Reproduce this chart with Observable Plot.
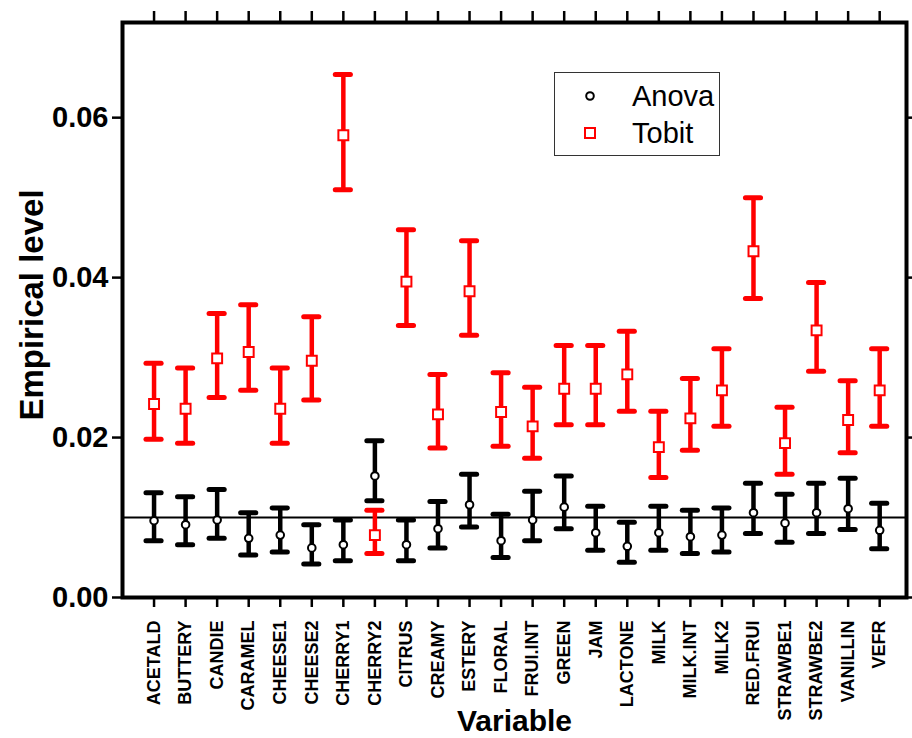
<!DOCTYPE html>
<html>
<head>
<meta charset="utf-8">
<script src="https://cdn.jsdelivr.net/npm/d3@7"></script>
<script src="https://cdn.jsdelivr.net/npm/@observablehq/plot@0.6"></script>
<style>
  html, body { margin: 0; padding: 0; background: #fff; }
  #wrap { position: relative; width: 912px; height: 738px; font-family: "Liberation Sans", Arial, sans-serif; }
  #legend { position: absolute; left: 554px; top: 72px; width: 166px; height: 84px; border: 1.5px solid #333; background: #fff; box-sizing: border-box; }
  #legend .row { position: absolute; left: 0; height: 34px; }
  #legend .lab { position: absolute; left: 77px; font-size: 29px; color: #000; line-height: 34px; }
  #legend svg { position: absolute; left: 25px; top: 0; }
</style>
</head>
<body>
<div id="wrap"></div>
<script>
const categories = ["ACETALD","BUTTERY","CANDIE","CARAMEL","CHEESE1","CHEESE2","CHERRY1","CHERRY2","CITRUS","CREAMY","ESTERY","FLORAL","FRUI.INT","GREEN","JAM","LACTONE","MILK","MILK.INT","MILK2","RED.FRUI","STRAWBE1","STRAWBE2","VANILLIN","VEFR"];

const anovaMid  = [0.0096,0.0091,0.0097,0.0074,0.0078,0.0062,0.0066,0.0152,0.0066,0.0086,0.0116,0.0071,0.0097,0.0113,0.0081,0.0064,0.0081,0.0076,0.0078,0.0106,0.0093,0.0106,0.0111,0.0084];
const anovaLow  = [0.0071,0.0066,0.0074,0.0053,0.0057,0.0042,0.0046,0.0121,0.0046,0.0062,0.0088,0.0050,0.0071,0.0086,0.0059,0.0044,0.0059,0.0055,0.0057,0.0080,0.0069,0.0080,0.0085,0.0061];
const anovaHigh = [0.0131,0.0126,0.0135,0.0106,0.0112,0.0091,0.0097,0.0196,0.0097,0.0120,0.0154,0.0104,0.0133,0.0152,0.0114,0.0094,0.0114,0.0109,0.0112,0.0143,0.0129,0.0143,0.0149,0.0118];

const tobitMid  = [0.0242,0.0236,0.0299,0.0307,0.0236,0.0296,0.0578,0.0078,0.0395,0.0229,0.0383,0.0232,0.0214,0.0261,0.0261,0.0279,0.0188,0.0224,0.0259,0.0433,0.0193,0.0334,0.0222,0.0259];
const tobitLow  = [0.0198,0.0193,0.0250,0.0259,0.0193,0.0247,0.0510,0.0055,0.0340,0.0187,0.0328,0.0189,0.0174,0.0216,0.0216,0.0233,0.0150,0.0184,0.0214,0.0374,0.0154,0.0283,0.0181,0.0214];
const tobitHigh = [0.0293,0.0287,0.0355,0.0366,0.0287,0.0351,0.0654,0.0109,0.0460,0.0279,0.0446,0.0281,0.0263,0.0315,0.0315,0.0333,0.0233,0.0274,0.0311,0.0500,0.0238,0.0394,0.0271,0.0311];

const yTicks = [0, 0.02, 0.04, 0.06];
const nominalLevel = 0.01;
const seriesNames = ["Anova", "Tobit"];
const seriesColors = ["#000000", "#ff0000"];

const anova = categories.map((c, i) => ({i: i + 1, c, mid: anovaMid[i], low: anovaLow[i], high: anovaHigh[i]}));
const tobit = categories.map((c, i) => ({i: i + 1, c, mid: tobitMid[i], low: tobitLow[i], high: tobitHigh[i]}));
const idx = categories.map((c, i) => i + 1);
const capHalf = 0.24;
const font = "Liberation Sans, Arial, sans-serif";

function errMarks(data, color, symbol, r) {
  return [
    Plot.ruleX(data, {x: "i", y1: "low", y2: "high", stroke: color, strokeWidth: 4.5}),
    Plot.ruleY(data, {y: "high", x1: d => d.i - capHalf, x2: d => d.i + capHalf, stroke: color, strokeWidth: 5, strokeLinecap: "round"}),
    Plot.ruleY(data, {y: "low", x1: d => d.i - capHalf, x2: d => d.i + capHalf, stroke: color, strokeWidth: 5, strokeLinecap: "round"}),
    Plot.dot(data, {x: "i", y: "mid", symbol, r, fill: "white", stroke: color, strokeWidth: 2})
  ];
}

const chart = Plot.plot({
  width: 912,
  height: 738,
  marginLeft: 122,
  marginRight: 6,
  marginTop: 22,
  marginBottom: 141,
  style: {fontFamily: font, background: "white", color: "black"},
  x: {type: "linear", domain: [0, 24.85]},
  y: {domain: [0, 0.0719]},
  marks: [
    Plot.ruleY([nominalLevel], {stroke: "black", strokeWidth: 2}),
    ...errMarks(anova, seriesColors[0], "circle", 3.8),
    ...errMarks(tobit, seriesColors[1], "square", 5.6),
    Plot.axisY(yTicks, {anchor: "left", tickFormat: d3.format(".2f"), tickSize: 10, tickPadding: 4, fontSize: 29, fontWeight: "bold", label: null, strokeWidth: 2.5}),
    Plot.axisY(yTicks, {anchor: "right", tickFormat: () => "", tickSize: 7, label: null, strokeWidth: 2.5}),
    Plot.axisX(idx, {anchor: "bottom", tickFormat: i => categories[i - 1], tickRotate: -90, tickSize: 10, tickPadding: 13, fontSize: 18, fontWeight: "bold", label: null, strokeWidth: 2.5}),
    Plot.axisX(idx, {anchor: "top", tickFormat: () => "", tickSize: 12, label: null, strokeWidth: 2.5}),
    Plot.frame({stroke: "black", strokeWidth: 4}),
    Plot.text(["Empirical level"], {text: d => d, frameAnchor: "left", textAnchor: "middle", rotate: -90, dx: -90, dy: -5, fontSize: 33, fontWeight: "bold", fill: "black"}),
    Plot.text(["Variable"], {text: d => d, frameAnchor: "bottom", textAnchor: "middle", lineAnchor: "middle", dy: 124, fontSize: 30, fontWeight: "bold", fill: "black"})
  ]
});

const wrap = document.getElementById("wrap");
wrap.appendChild(chart);

const legend = document.createElement("div");
legend.id = "legend";
legend.innerHTML =
  `<div class="row" style="top:6px;width:100%"><svg width="22" height="34" viewBox="0 0 22 34"><circle cx="10" cy="17" r="3.8" fill="white" stroke="${seriesColors[0]}" stroke-width="2"/></svg><span class="lab" style="top:0">${seriesNames[0]}</span></div>` +
  `<div class="row" style="top:43px;width:100%"><svg width="22" height="34" viewBox="0 0 22 34"><rect x="5" y="12" width="10" height="10" fill="white" stroke="${seriesColors[1]}" stroke-width="2"/></svg><span class="lab" style="top:0">${seriesNames[1]}</span></div>`;
wrap.appendChild(legend);
</script>
</body>
</html>
